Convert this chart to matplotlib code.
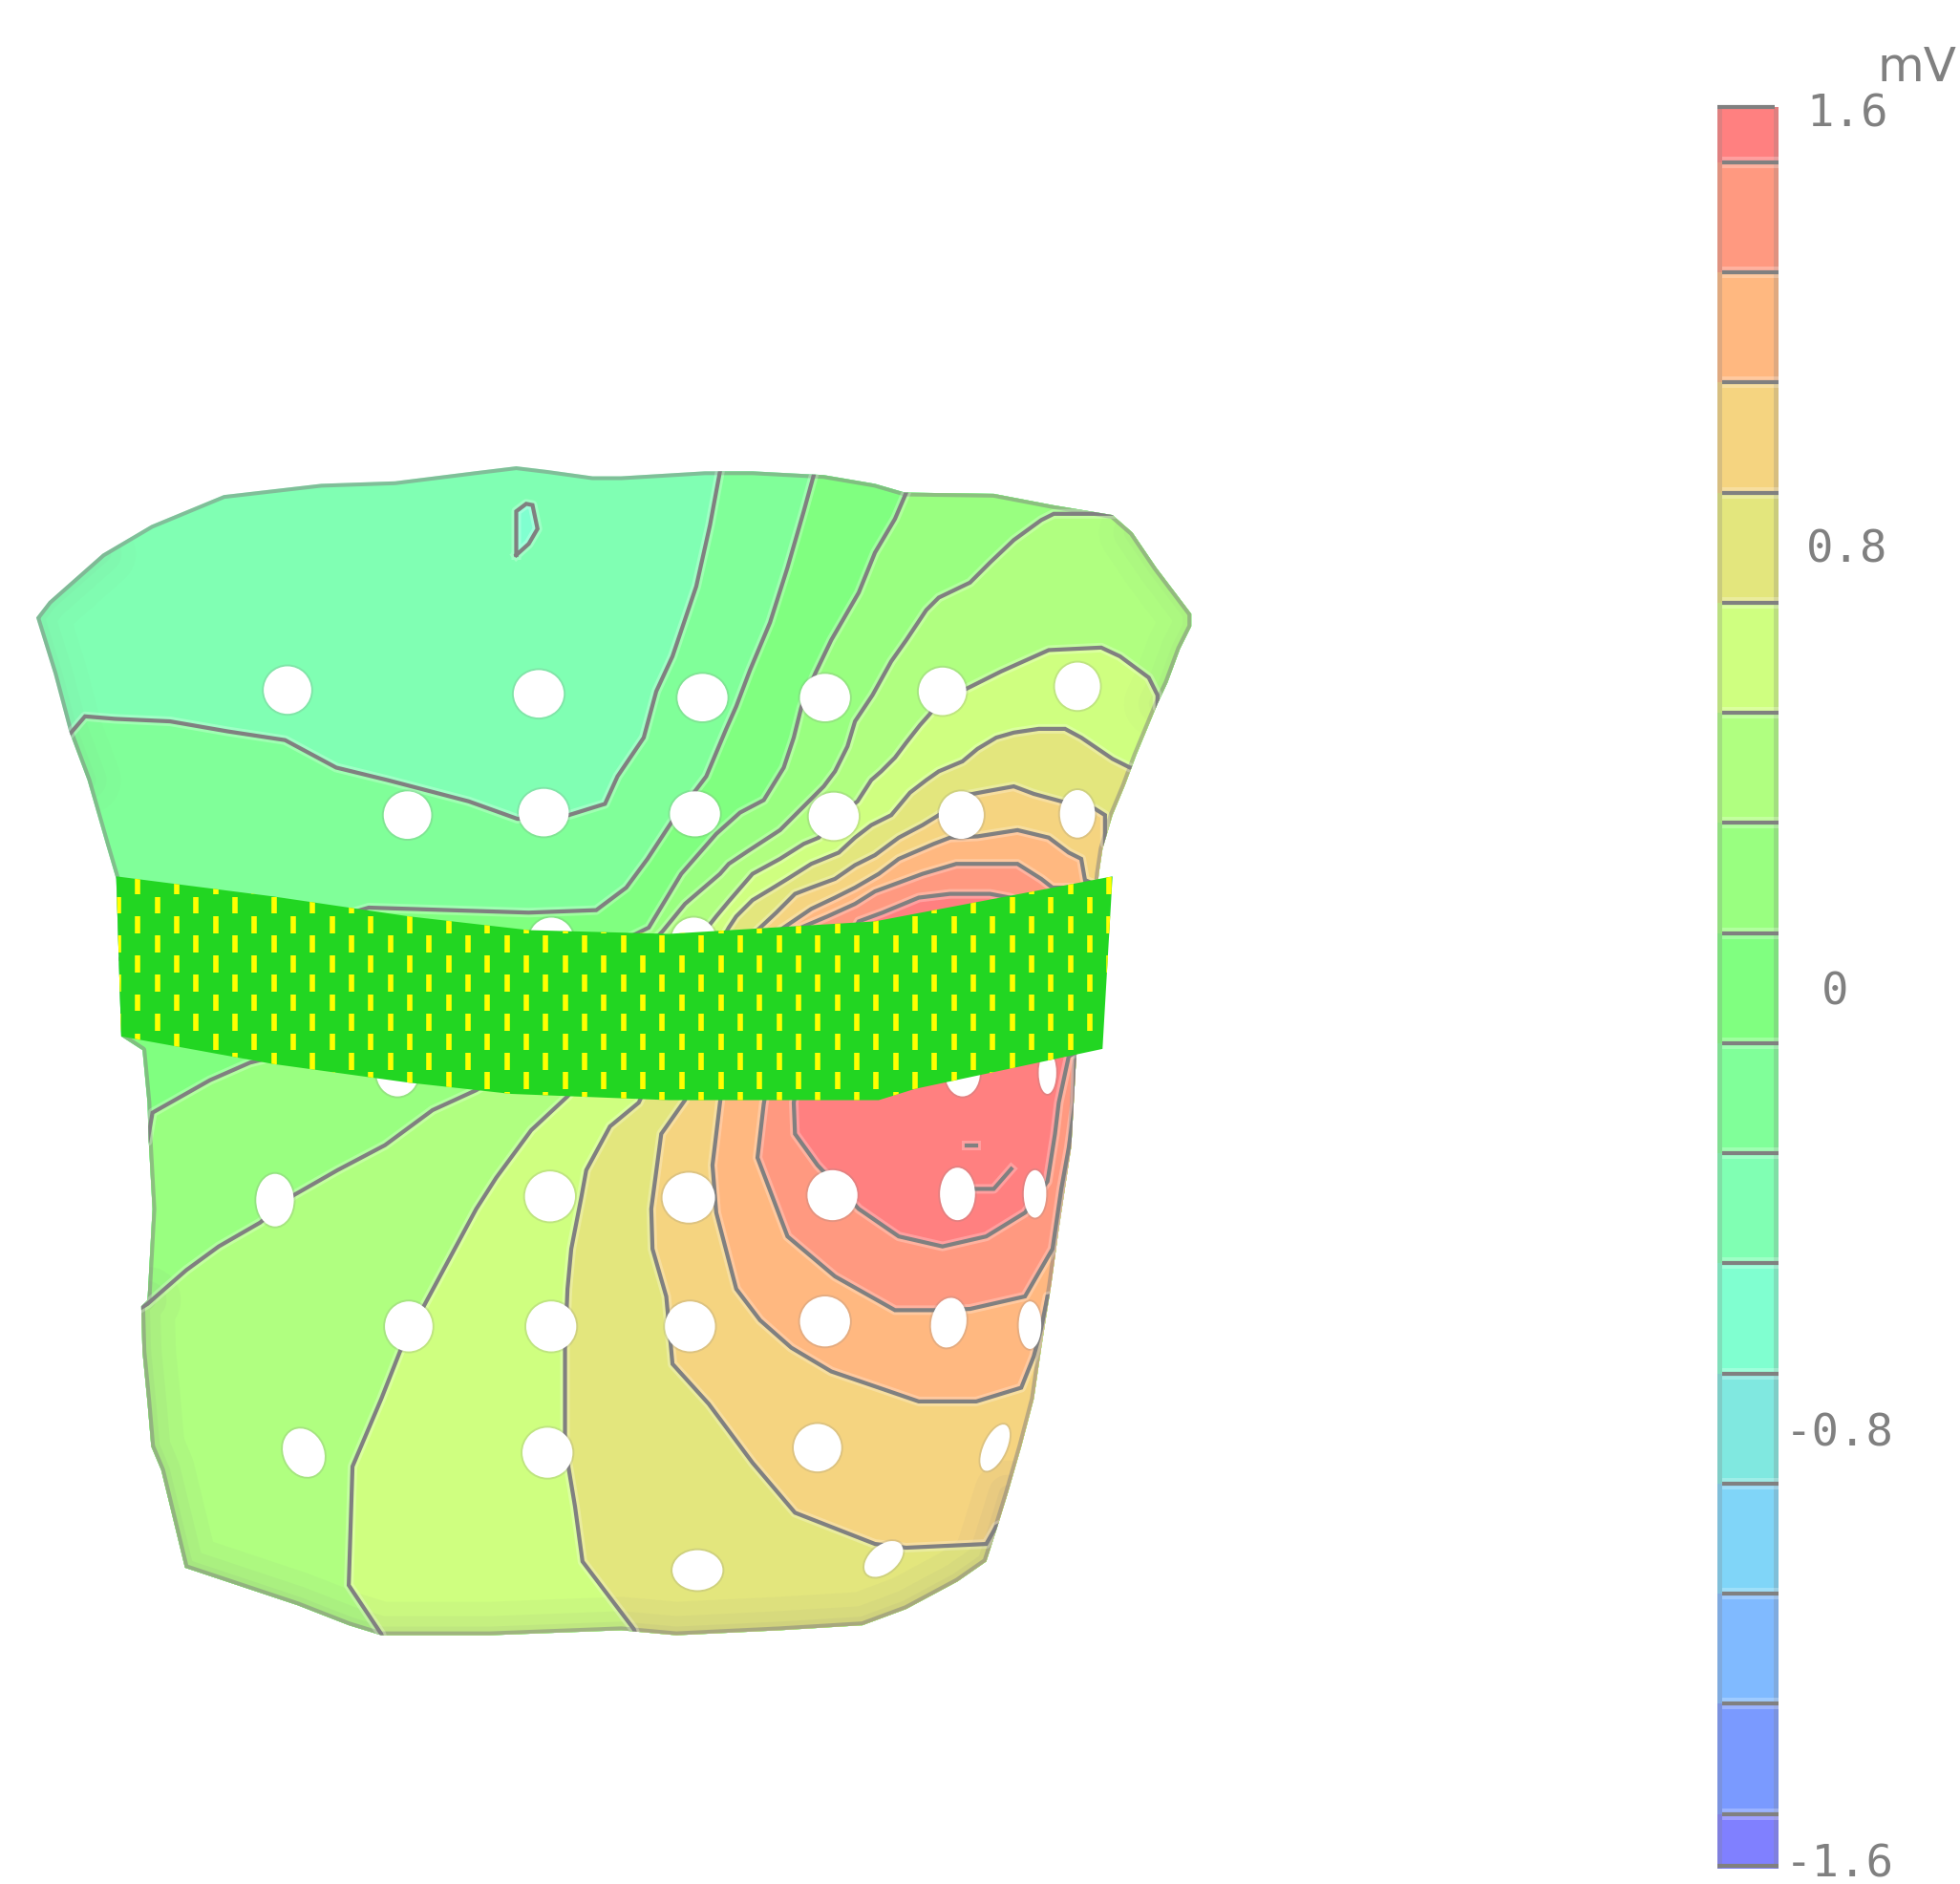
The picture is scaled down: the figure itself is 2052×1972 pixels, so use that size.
import numpy as np
import matplotlib
matplotlib.use('Agg')
import matplotlib.pyplot as plt
from matplotlib.colors import ListedColormap, BoundaryNorm
from matplotlib.patches import Polygon, Ellipse

# everything on the surface is read in picture units, 1568 x 1507
WIDTH = 1568
HEIGHT = 1507

band_bounds = [-1.6, -1.5, -1.3, -1.1, -0.9, -0.7, -0.5, -0.3, -0.1, 0.1, 0.3, 0.5, 0.7, 0.9, 1.1, 1.3, 1.5, 1.6]
band_colors = ['#8080ff', '#7a9aff', '#80baff', '#80d5f8', '#80e8e0', '#80ffd0', '#80ffb3', '#80ff99', '#80ff80',
               '#99ff80', '#b0ff80', '#cfff80', '#e3e67d', '#f5d480', '#ffb880', '#ff9980', '#ff8080']

tick_labels = ['1.6', '0.8', '0', '-0.8', '-1.6']
tick_x = [1445, 1445, 1457, 1428, 1428]
tick_y = [92, 440, 794, 1147, 1492]

torso_outline = [(29, 494), (39, 481), (82, 443), (121, 420), (179, 396), (257, 387), (316, 385), (380, 377),
                 (413, 373), (438, 376), (474, 381), (497, 381), (564, 377), (602, 377), (659, 380), (700, 387),
                 (724, 394), (795, 395), (842, 404), (890, 412), (906, 426), (925, 454), (953, 491), (953, 501),
                 (944, 519), (934, 546), (926, 563), (909, 604), (900, 628), (890, 652), (882, 679), (879, 699),
                 (872, 780), (861, 845), (857, 917), (847, 983), (841, 1027), (833, 1078), (827, 1119), (817, 1157),
                 (806, 1195), (797, 1224), (789, 1249), (766, 1265), (725, 1287), (690, 1300), (624, 1304),
                 (541, 1308), (497, 1304), (392, 1308), (305, 1308), (279, 1300), (238, 1284), (148, 1254),
                 (129, 1176), (121, 1157), (118, 1122), (114, 1081), (113, 1045), (118, 1040), (122, 967),
                 (119, 913), (118, 882), (114, 840), (97, 829), (93, 703), (85, 676), (70, 624), (55, 584),
                 (43, 539)]

strip_outline = [(93, 701), (218, 717), (327, 733), (423, 744), (535, 747), (700, 737), (890, 701), (882, 839),
                 (732, 871), (703, 880), (535, 880), (409, 875), (327, 866), (218, 851), (97, 829)]

iso_m03 = [(577, 340), (576, 377), (568, 420), (557, 469), (538, 525), (525, 553), (515, 590), (494, 621), (484, 643),
           (455, 652), (435, 653), (414, 655), (375, 641), (310, 624), (269, 614), (228, 592), (182, 585), (136, 577),
           (92, 575), (68, 573), (56, 587), (30, 620)]
iso_m01 = [(652, 340), (651, 380), (643, 409), (630, 454), (616, 498), (600, 536), (589, 565), (581, 583), (565, 621),
           (537, 658), (518, 687), (501, 710), (477, 728), (423, 730), (295, 726), (180, 760), (60, 770)]
iso_p01 = [(730, 370), (725, 394), (716, 415), (700, 442), (687, 474), (665, 512), (652, 539), (641, 566), (635, 590),
           (627, 614), (611, 640), (592, 650), (573, 667), (545, 699), (519, 742), (400, 800), (200, 850), (168, 864),
           (122, 890), (118, 913), (90, 925)]
iso_p03 = [(890, 411), (843, 411), (833, 416), (811, 432), (792, 450), (776, 466), (751, 478), (741, 488), (725, 512),
           (713, 529), (698, 556), (684, 577), (678, 597), (668, 617), (659, 629), (633, 655), (624, 664), (598, 681),
           (583, 691), (576, 699), (548, 723), (530, 745), (450, 830), (381, 872), (346, 888), (308, 916), (270, 936),
           (235, 956), (208, 978), (175, 997), (149, 1016), (118, 1043), (90, 1060)]
iso_p05 = [(960, 566), (926, 566), (926, 556), (919, 542), (896, 525), (881, 518), (839, 520), (801, 537), (773, 551),
           (754, 555), (744, 571), (736, 580), (725, 594), (716, 606), (705, 617), (697, 624), (686, 641), (667, 655),
           (655, 670), (643, 675), (624, 687), (602, 699), (583, 721), (573, 733), (520, 800), (454, 877), (425, 904),
           (397, 942), (381, 967), (340, 1043), (320, 1081), (305, 1119), (282, 1173), (279, 1268), (305, 1307),
           (315, 1340)]
iso_p07 = [(960, 620), (904, 614), (890, 607), (865, 590), (852, 583), (831, 583), (811, 586), (797, 590), (782, 599),
           (770, 609), (751, 617), (741, 624), (728, 634), (713, 652), (697, 660), (684, 670), (671, 682), (649, 691),
           (630, 703), (617, 711), (602, 720), (589, 733), (583, 742), (540, 820), (511, 882), (488, 901), (469, 936),
           (465, 958), (457, 999), (454, 1031), (452, 1078), (452, 1157), (460, 1205), (466, 1249), (507, 1303),
           (520, 1340)]
iso_p09 = [(930, 680), (884, 675), (884, 652), (876, 647), (849, 641), (827, 635), (811, 629), (789, 633), (773, 636),
           (751, 652), (738, 660), (719, 670), (700, 684), (684, 692), (668, 703), (649, 710), (636, 715), (621, 730),
           (606, 744), (560, 820), (548, 880), (529, 907), (521, 967), (522, 999), (533, 1037), (538, 1091), (567, 1123),
           (602, 1170), (636, 1210), (700, 1235), (725, 1238), (789, 1235), (797, 1221), (840, 1200)]
iso_p11 = [(930, 730), (868, 704), (865, 687), (855, 682), (839, 670), (814, 664), (782, 669), (760, 670), (747, 675),
           (719, 687), (703, 699), (684, 710), (668, 718), (649, 727), (624, 744), (585, 820), (576, 882), (570, 932),
           (573, 970), (589, 1031), (608, 1056), (633, 1078), (665, 1097), (703, 1110), (735, 1121), (781, 1121),
           (817, 1110), (827, 1085), (833, 1062), (838, 1037), (870, 1030)]
iso_p13 = [(930, 720), (858, 710), (842, 710), (833, 703), (814, 691), (765, 691), (738, 699), (719, 706), (700, 713),
           (684, 723), (662, 733), (636, 744), (611, 883), (606, 926), (630, 989), (668, 1021), (716, 1048), (751, 1048),
           (776, 1047), (820, 1037), (842, 999), (849, 951), (855, 918), (860, 882), (861, 845), (930, 800)]
iso_p15 = [(930, 760), (808, 718), (792, 715), (760, 715), (735, 718), (706, 730), (687, 737), (650, 800), (635, 882),
           (636, 907), (654, 932), (687, 967), (719, 989), (754, 997), (789, 989), (820, 970), (838, 945), (844, 907),
           (847, 882), (855, 845), (930, 800)]

iso_levels = [-0.3, -0.1, 0.1, 0.3, 0.5, 0.7, 0.9, 1.1, 1.3, 1.5]
iso_lines = [iso_m03, iso_m01, iso_p01, iso_p03, iso_p05, iso_p07, iso_p09, iso_p11, iso_p13, iso_p15]

# small closed patch at the top, just below -0.3 .. -0.5
low_loop = [(413, 444), (413, 409), (421, 403), (426, 404), (430, 423), (423, 435)]
# stray bits of contour inside the maximum
stray_a = [(773, 916), (781, 916)]
stray_b = [(781, 951), (795, 951), (809, 935)]

elec_x = [230, 431, 562, 660, 754, 862, 326, 435, 556, 667, 769, 862, 441, 555, 318, 770, 838,
          220, 440, 551, 666, 766, 828, 327, 441, 552, 660, 759, 824, 243, 438, 654, 796, 558, 707]
elec_y = [552, 555, 558, 558, 553, 549, 652, 650, 651, 653, 652, 651, 752, 752, 858, 858, 858,
          960, 957, 958, 956, 955, 955, 1061, 1061, 1061, 1057, 1058, 1060, 1162, 1162, 1158, 1158, 1256, 1247]
elec_w = [38, 40, 40, 40, 38, 36, 38, 40, 40, 40, 36, 28, 36, 36, 34, 28, 14,
          30, 40, 42, 40, 28, 18, 38, 40, 40, 40, 28, 18, 32, 40, 38, 18, 40, 22]
elec_h = [38, 38, 38, 38, 38, 38, 38, 38, 36, 38, 38, 38, 36, 36, 38, 38, 34,
          42, 40, 40, 40, 42, 38, 40, 40, 40, 40, 40, 38, 40, 40, 38, 40, 32, 36]
elec_tilt = [0, 0, 0, 0, 0, 0, 0, 0, 0, 0, 0, 0, 0, 0, 0, 0, 0,
             0, 0, 0, 0, 0, 0, 0, 0, 0, 0, 10, 0, -25, 0, 0, 25, 0, 50]

LINE_GRAY = '#808080'
px = 72.0 / 100  # one output pixel in points

fig = plt.figure(figsize=(20.52, 19.72), dpi=100)
ax = fig.add_axes([0, 0, 1, 1])
ax.set_xlim(0, WIDTH)
ax.set_ylim(HEIGHT, 0)
ax.axis('off')

cmap = ListedColormap(band_colors)
norm = BoundaryNorm(band_bounds, cmap.N)

def band_color(value):
    return cmap(norm(value))

torso = Polygon(torso_outline, closed=True, facecolor=band_color(-0.4), edgecolor='none', zorder=1)
ax.add_patch(torso)

# painter's way: each contour fills everything on its high side
for level, line in zip(iso_levels, iso_lines):
    xs, ys = zip(*line)
    fx = list(xs) + [xs[-1], 1100, 1100]
    fy = list(ys) + [1500, 1500, ys[0]]
    f = ax.fill(fx, fy, color=band_color(level + 0.05), lw=0, zorder=2)[0]
    f.set_clip_path(torso)

xs, ys = zip(*low_loop)
f = ax.fill(xs, ys, color=band_color(-0.6), lw=0, zorder=2)[0]
f.set_clip_path(torso)

# darkening where the surface turns away, mostly along the bottom
shade_parts = [(torso_outline[40:60], 1.0), (torso_outline[67:] + torso_outline[:3], 0.5), (torso_outline[20:27], 0.5)]
for part, k in shade_parts:
    sx, sy = zip(*part)
    for w, a in [(70, 0.05), (40, 0.06), (18, 0.08)]:
        s, = ax.plot(sx, sy, color=LINE_GRAY, lw=w * px, alpha=a * k, solid_capstyle='round', zorder=3)
        s.set_clip_path(torso)

ox, oy = zip(*(torso_outline + torso_outline[:1]))
rim, = ax.plot(ox, oy, color=LINE_GRAY, lw=8 * px, alpha=0.5, zorder=3)
rim.set_clip_path(torso)

for line in iso_lines + [low_loop + low_loop[:1], stray_a, stray_b]:
    xs, ys = zip(*line)
    # the contours have a light fringe on both sides
    h, = ax.plot(xs, ys, color='white', lw=10 * px, alpha=0.25, zorder=4)
    h.set_clip_path(torso)
    l, = ax.plot(xs, ys, color=LINE_GRAY, lw=4.2 * px, solid_joinstyle='miter', zorder=4)
    l.set_clip_path(torso)

for x, y, w, h, t in zip(elec_x, elec_y, elec_w, elec_h, elec_tilt):
    ax.add_patch(Ellipse((x, y), w + 3, h + 3, angle=t, facecolor=(0.5, 0.5, 0.5, 0.2), edgecolor='none', zorder=5))
    ax.add_patch(Ellipse((x, y), w, h, angle=t, facecolor='white', edgecolor='none', zorder=5))

strip = Polygon(strip_outline, closed=True, facecolor='#22d622', edgecolor='none', zorder=6)
ax.add_patch(strip)

# yellow mesh nodes on the strip, staggered columns
col_x = 94.8 + 15.54 * np.arange(52)
row_y = 708.5 + 15.6 * np.arange(-1, 12)
for i, x in enumerate(col_x):
    for j, y in enumerate(row_y):
        if (i + j) % 2 == 0:
            d = ax.vlines(x, y - 6.8, y + 6.8, color='#ffff00', lw=5.6 * px, zorder=7)
            d.set_clip_path(strip)

for lab, x, y in zip(tick_labels, tick_x, tick_y):
    ax.text(x, y, lab, family='DejaVu Sans Mono', fontsize=34, color=LINE_GRAY, ha='left', va='center', zorder=8)
ax.text(1502, 54, 'mV', family='DejaVu Sans', fontsize=36, color=LINE_GRAY, ha='left', va='center', zorder=8)

# colour bar
bar_top = 85.7
bar_bot = 1495.0
band_mid = [(a + b) / 2 for a, b in zip(band_bounds[:-1], band_bounds[1:])]
cax = fig.add_axes([1374 / WIDTH, 1 - bar_bot / HEIGHT, 49 / WIDTH, (bar_bot - bar_top) / HEIGHT])
cax.pcolormesh([0, 1], band_bounds, np.array(band_mid).reshape(-1, 1), cmap=cmap, norm=norm)
cax.axvspan(0, 0.08, color=LINE_GRAY, alpha=0.25, lw=0)
cax.axvspan(0.92, 1, color=LINE_GRAY, alpha=0.25, lw=0)
cax.hlines(band_bounds[1:-1], 0.08, 1, color='white', lw=12 * px, alpha=0.25)
cax.hlines(band_bounds[1:-1], 0.08, 1, color=LINE_GRAY, lw=4.2 * px)
cax.hlines([-1.595, 1.6], 0, [1, 0.93], color=LINE_GRAY, lw=4.2 * px, clip_on=False)
cax.set_xlim(0, 1)
cax.set_ylim(-1.6, 1.6)
cax.axis('off')

plt.savefig('out.png', dpi=100)
